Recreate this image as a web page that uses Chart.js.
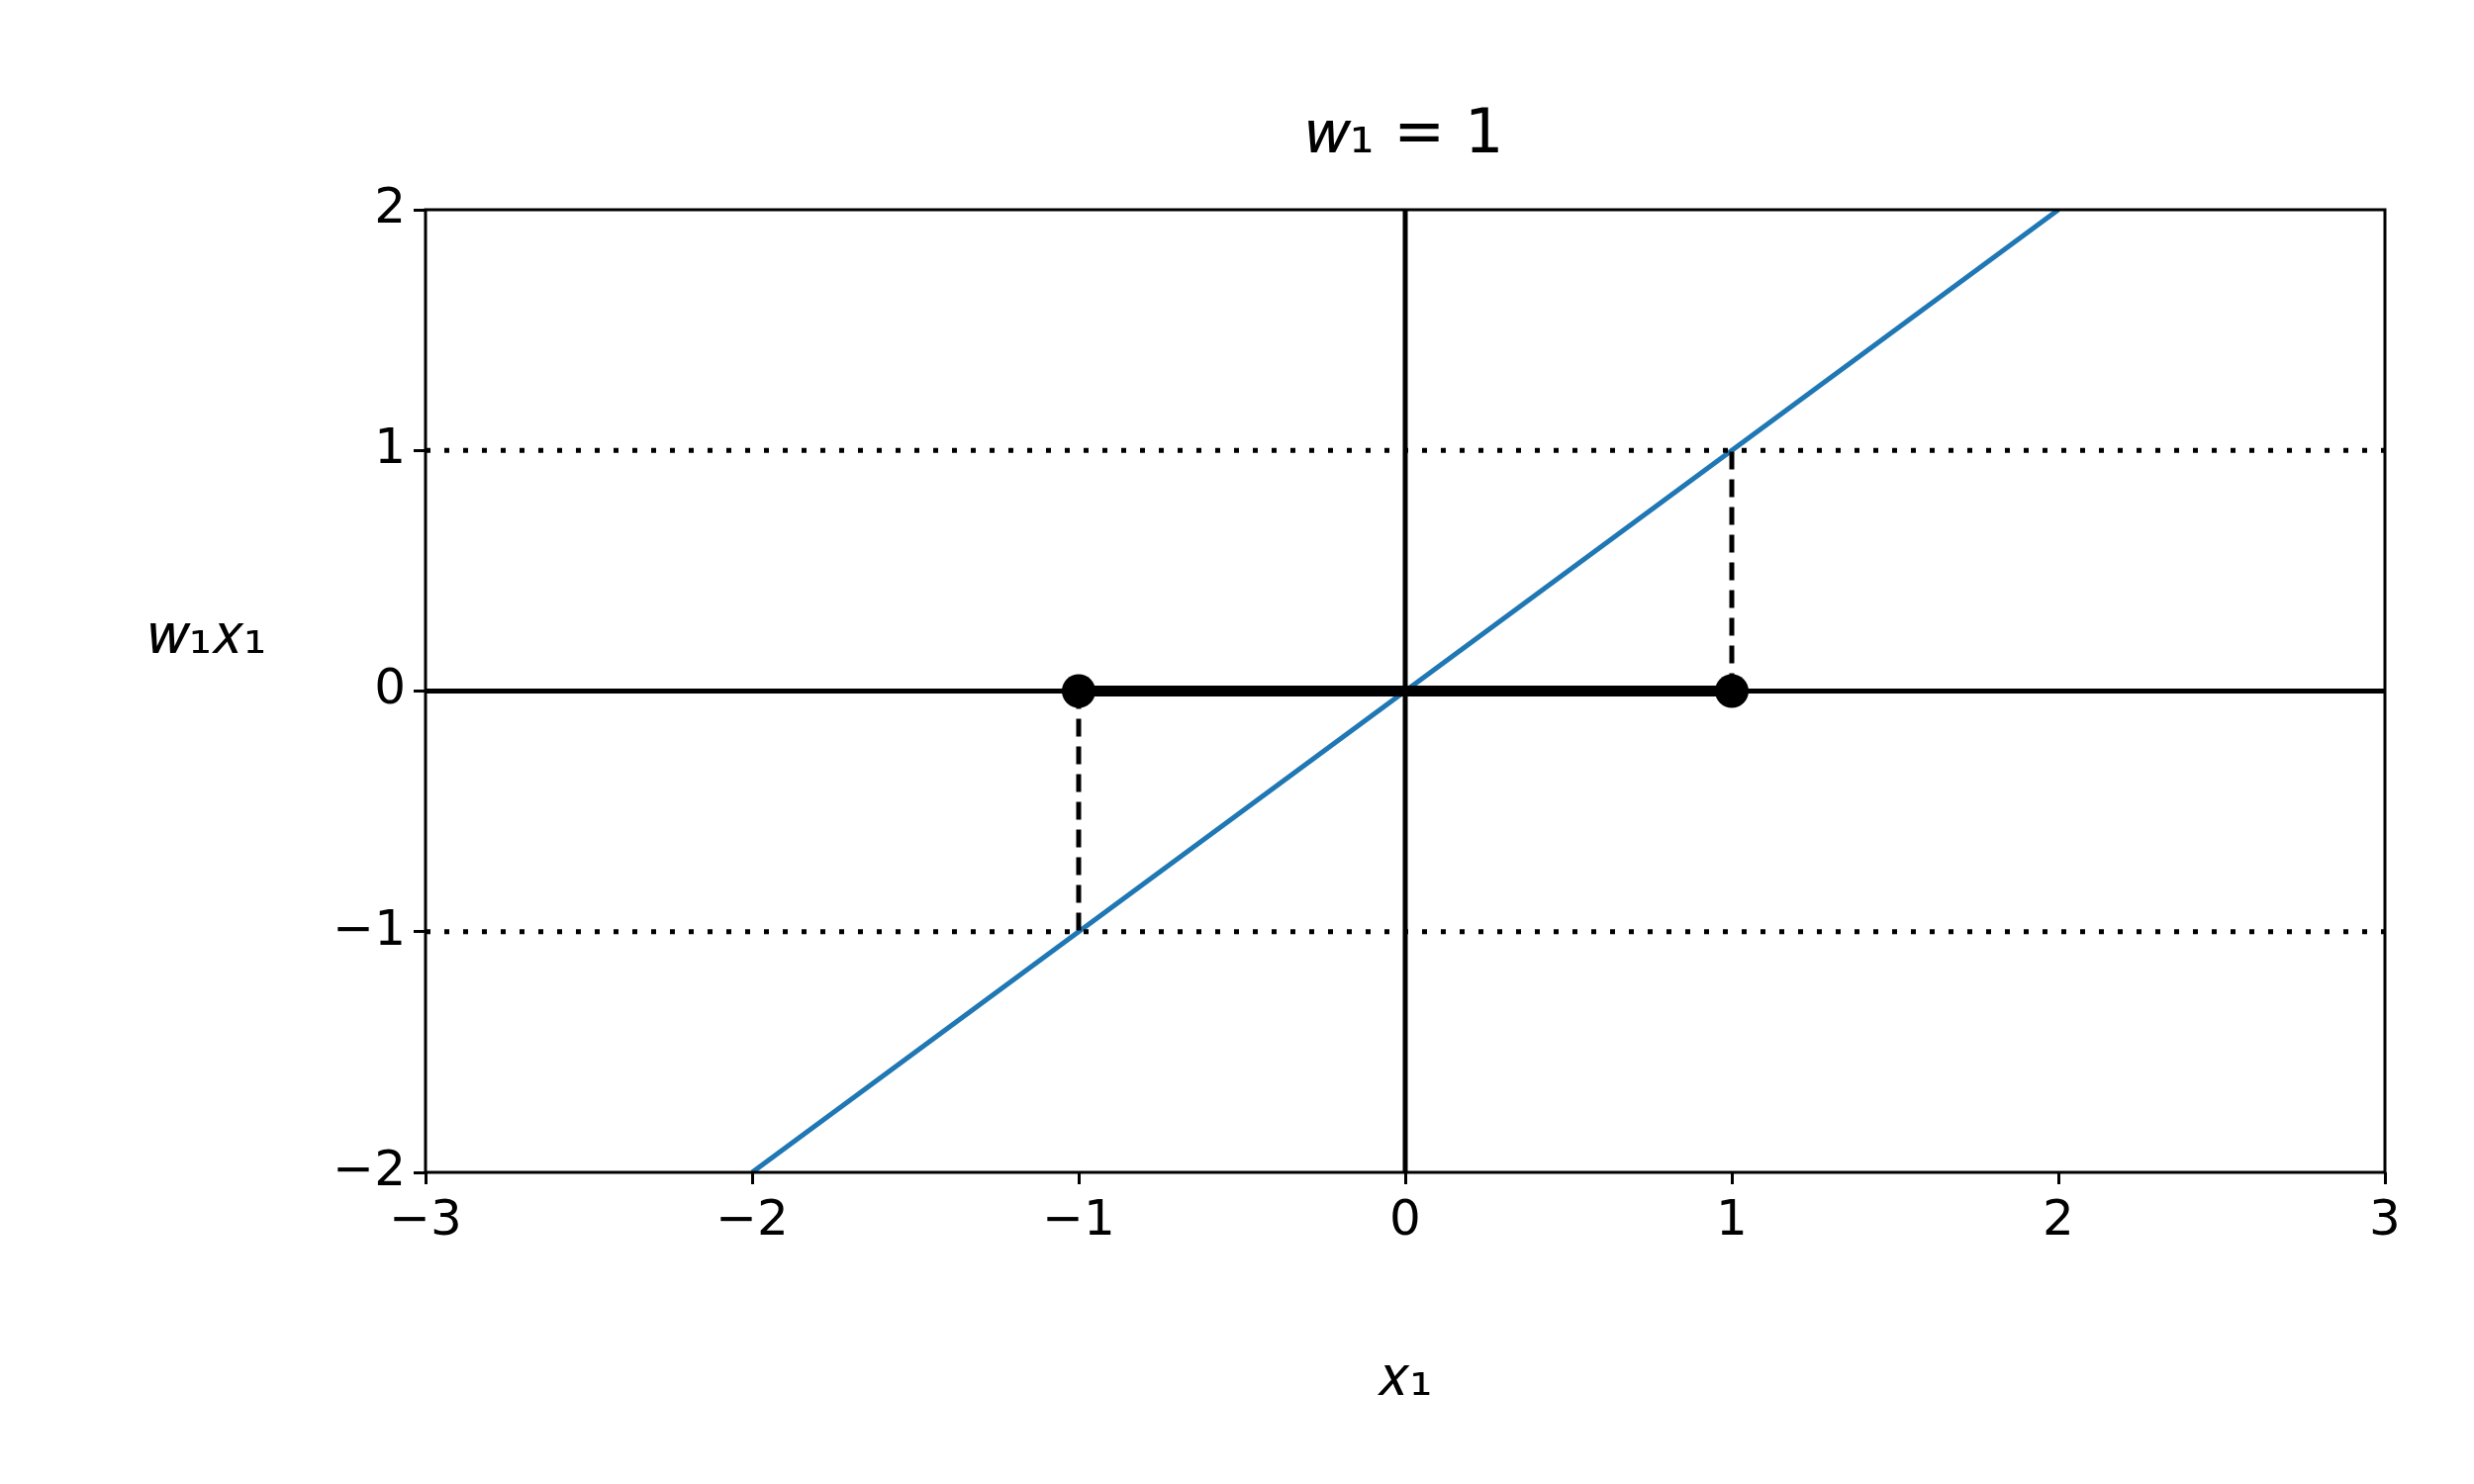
<!DOCTYPE html>
<html><head><meta charset="utf-8">
<script src="https://cdn.jsdelivr.net/npm/chart.js@4"></script>
<style>body{margin:0;background:#fff}canvas{display:block}</style>
</head><body>
<canvas id="c" width="2500" height="1500" style="width:2500px;height:1500px"></canvas>
<script>
const xTicks = [-3, -2, -1, 0, 1, 2, 3];
const yTicks = [-2, -1, 0, 1, 2];
const blueLine = [{x: -2, y: -2}, {x: 2, y: 2}];
const zeroLine = [{x: -3, y: 0}, {x: 3, y: 0}];
const vertAxis = [{x: 0, y: -2}, {x: 0, y: 2}];
const thickSeg = [{x: -1, y: 0}, {x: 1, y: 0}];
const dotUp = [{x: -3, y: 1}, {x: 3, y: 1}];
const dotDown = [{x: -3, y: -1}, {x: 3, y: -1}];
const dashRight = [{x: 1, y: 0}, {x: 1, y: 1}];
const dashLeft = [{x: -1, y: 0}, {x: -1, y: -1}];
const dots = [{x: -1, y: 0}, {x: 1, y: 0}];

const FONT = "'DejaVu Sans'";
const minus = v => String(v).replace('-', '\u2212');

function line(data, width, color, dash) {
  return {data, borderColor: color, borderWidth: width, borderDash: dash || [],
    pointRadius: 0, showLine: true, fill: false, borderCapStyle: 'butt'};
}

const extras = {
  id: 'extras',
  afterDraw(chart) {
    const {ctx, chartArea: a} = chart;
    ctx.save();
    ctx.strokeStyle = '#000'; ctx.lineWidth = 3;
    ctx.strokeRect(a.left, a.top, a.right - a.left, a.bottom - a.top);
    ctx.fillStyle = '#000';
    ctx.textAlign = 'center'; ctx.textBaseline = 'middle';
    ctx.font = '62px ' + FONT;
    ctx.fillText('\u{1D464}\u2081 = 1', (a.left + a.right) / 2, 138);
    ctx.font = '58px ' + FONT;
    ctx.fillText('\u{1D465}\u2081', (a.left + a.right) / 2, 1395);
    ctx.fillText('\u{1D464}\u2081\u{1D465}\u2081', 210, 645);
    ctx.restore();
  }
};

new Chart(document.getElementById('c'), {
  type: 'scatter',
  data: {datasets: [
    line(dotUp, 5, '#000', [5, 14]),
    line(dotDown, 5, '#000', [5, 14]),
    line(dashRight, 5, '#000', [18, 10]),
    line(dashLeft, 5, '#000', [18, 10]),
    line(zeroLine, 5, '#000'),
    line(vertAxis, 5, '#000'),
    line(thickSeg, 11, '#000'),
    line(blueLine, 5, '#1f77b4'),
    {data: dots, pointRadius: 17, pointBackgroundColor: '#000', pointBorderWidth: 0, showLine: false}
  ]},
  options: {
    responsive: false, animation: false, devicePixelRatio: 1,
    layout: {padding: {top: 212, right: 90, left: 0, bottom: 0}},
    plugins: {legend: {display: false}, tooltip: {enabled: false}},
    scales: {
      x: {type: 'linear', min: -3, max: 3,
        afterBuildTicks: s => { s.ticks = xTicks.map(v => ({value: v})); },
        afterFit: s => { s.height = 315; },
        border: {display: false},
        grid: {drawOnChartArea: false, tickLength: 12, tickWidth: 3, color: '#000'},
        ticks: {color: '#000', font: {family: FONT, size: 50}, padding: 8, callback: minus}},
      y: {type: 'linear', min: -2, max: 2,
        afterBuildTicks: s => { s.ticks = yTicks.map(v => ({value: v})); },
        afterFit: s => { s.width = 430; },
        border: {display: false},
        grid: {drawOnChartArea: false, tickLength: 12, tickWidth: 3, color: '#000'},
        ticks: {color: '#000', font: {family: FONT, size: 50}, padding: 8, callback: minus}}
    }
  },
  plugins: [extras]
});
</script>
</body></html>
